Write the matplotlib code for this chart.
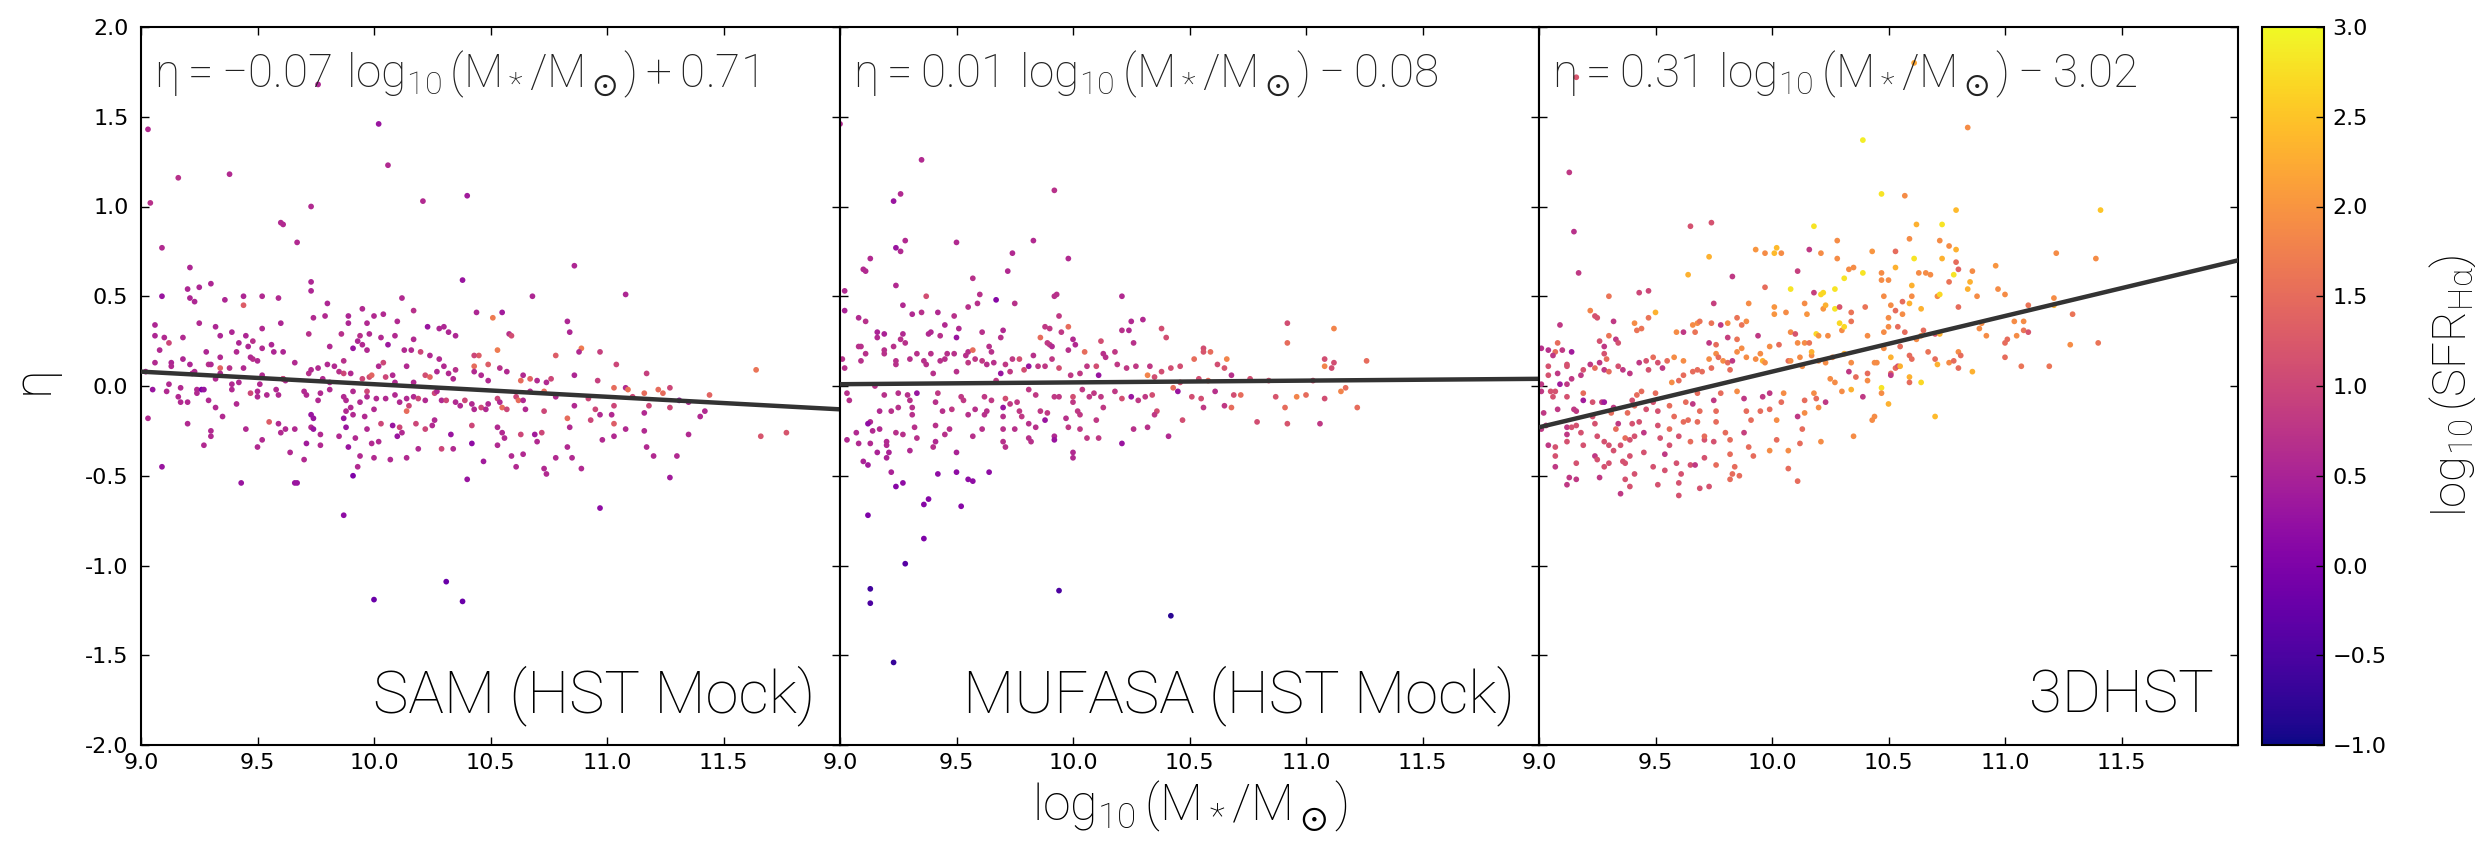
import numpy as np
import matplotlib
matplotlib.use('Agg')
import matplotlib.pyplot as plt
from matplotlib.ticker import FormatStrFormatter

plt.rcParams['mathtext.fontset'] = 'custom'
plt.rcParams['mathtext.rm'] = 'Roboto:light'
plt.rcParams['mathtext.it'] = 'Roboto:light'
plt.rcParams['mathtext.default'] = 'rm'
plt.rcParams['mathtext.fallback'] = 'stixsans'

# (log10 M*, eta, log10 SFR_Halpha)
sam_points = [
    (9.21, 0.66, .55), (10.86, 0.67, .55), (9.73, 0.58, .55), (10.38, 0.59, .3), (9.20, 0.54, .55),
    (9.25, 0.55, .55), (9.30, 0.57, .55), (9.09, 0.50, .3), (9.21, 0.49, .55), (9.23, 0.47, .55),
    (9.36, 0.48, .55), (9.44, 0.50, .55), (9.44, 0.45, 1.3), (9.52, 0.50, .6), (9.59, 0.49, .6),
    (9.73, 0.53, .55), (9.80, 0.46, .55), (10.12, 0.49, .6), (10.68, 0.50, .55), (11.08, 0.51, .55),
    (9.25, 0.35, .6), (9.06, 0.34, .55), (9.32, 0.33, .55), (9.52, 0.32, .6), (9.60, 0.35, .55),
    (9.74, 0.38, .6), (9.79, 0.39, .6), (9.89, 0.39, .55), (9.89, 0.35, .55), (9.95, 0.43, .6),
    (10.00, 0.39, .6), (10.04, 0.40, .6), (10.10, 0.36, .6), (10.17, 0.42, .7), (10.23, 0.33, .3),
    (10.28, 0.32, .55), (10.30, 0.33, .55), (10.44, 0.41, .55), (10.51, 0.38, 1.7), (10.55, 0.41, .4),
    (10.83, 0.36, .55), (10.84, 0.30, .55), (9.97, 0.35, .6), (9.18, 0.27, .6), (9.06, 0.28, .55),
    (9.10, 0.27, .6), (9.12, 0.24, 1.0), (9.08, 0.20, .6), (9.34, 0.28, .55), (9.39, 0.30, .55),
    (9.45, 0.28, .55), (9.42, 0.24, .55), (9.48, 0.25, .7), (9.46, 0.22, .55), (9.28, 0.19, .55),
    (9.34, 0.16, .6), (9.41, 0.19, .6), (9.48, 0.15, .7), (9.52, 0.21, .6), (9.56, 0.23, .55),
    (9.61, 0.19, .55), (9.57, 0.19, .55), (9.72, 0.29, .7), (9.86, 0.29, .7), (9.94, 0.28, .7),
    (9.98, 0.29, .6), (10.03, 0.27, .6), (10.09, 0.28, .6), (9.81, 0.22, .6), (9.91, 0.21, .3),
    (9.93, 0.25, .55), (9.95, 0.23, .6), (9.97, 0.20, .6), (10.06, 0.23, .35), (10.13, 0.20, .6),
    (10.16, 0.20, .6), (10.20, 0.19, 1.0), (10.17, 0.26, .6), (10.24, 0.17, .6), (10.28, 0.15, .6),
    (10.32, 0.30, .55), (10.35, 0.28, .55), (10.53, 0.20, 1.7), (10.58, 0.29, .7), (10.59, 0.28, 1.1),
    (10.45, 0.17, 1.3), (10.43, 0.17, 1.0), (10.78, 0.17, 1.3), (10.89, 0.21, 1.7), (10.88, 0.19, .6),
    (10.97, 0.19, .9), (11.04, 0.12, 1.0), (11.17, 0.07, .9), (11.64, 0.09, 1.6), (9.02, 0.08, .55),
    (9.06, 0.13, .6), (9.13, 0.13, .55), (9.13, 0.11, .6), (9.18, 0.15, .55), (9.21, 0.12, .55),
    (9.23, 0.08, .6), (9.22, 0.07, .6), (9.29, 0.12, .7), (9.30, 0.12, .6), (9.34, 0.10, 1.4),
    (9.38, 0.10, .7), (9.34, 0.07, .6), (9.32, 0.04, .6), (9.39, 0.01, .6), (9.42, 0.02, .6),
    (9.44, 0.10, .6), (9.47, 0.16, .6), (9.50, 0.14, .6), (9.52, 0.06, .6), (9.51, 0.01, .6),
    (9.61, 0.04, .6), (9.62, 0.03, .6), (9.61, 0.04, 1.0), (9.66, 0.13, .6), (9.72, 0.07, .7),
    (9.73, 0.09, .6), (9.76, 0.10, .6), (9.78, 0.04, .6), (9.80, 0.12, .6), (9.81, 0.02, .6),
    (9.83, 0.11, .6), (9.85, 0.08, .7), (9.87, 0.14, .7), (9.87, 0.07, 1.0), (9.90, 0.07, .6),
    (9.95, 0.04, 1.0), (9.98, 0.05, 1.1), (9.99, 0.06, 1.4), (10.02, 0.11, .6), (10.04, 0.13, 1.0),
    (10.05, 0.05, 1.0), (10.08, 0.06, .6), (10.09, 0.02, .6), (10.14, 0.11, .6), (10.17, 0.02, .6),
    (10.22, 0.06, 1.1), (10.24, 0.05, 1.4), (10.27, 0.08, .6), (10.30, 0.11, .6), (10.32, 0.07, .6),
    (10.35, 0.09, .7), (10.34, 0.04, .6), (10.43, 0.11, 1.5), (10.43, 0.08, .6), (10.46, 0.06, .6),
    (10.49, 0.03, .6), (10.54, 0.10, .7), (10.57, 0.08, .6), (10.49, 0.12, 1.3), (10.64, 0.06, .6),
    (10.63, 0.03, 1.5), (10.67, 0.04, 1.4), (10.70, 0.03, .6), (10.76, 0.04, 1.0), (10.74, 0.02, .6),
    (10.86, 0.06, .55), (10.96, 0.03, .9), (9.05, -0.02, .3), (9.12, 0.01, .6), (9.11, -0.03, .6),
    (9.17, -0.01, .6), (9.16, -0.06, .6), (9.17, -0.09, .6), (9.20, -0.09, .6), (9.24, -0.02, .6),
    (9.26, -0.02, 0.0), (9.27, -0.02, .3), (9.29, -0.08, .6), (9.24, -0.04, .6), (9.32, -0.12, .6),
    (9.35, -0.17, .6), (9.39, -0.02, .6), (9.41, -0.10, .6), (9.47, -0.04, 1.0), (9.50, -0.03, .6),
    (9.50, -0.06, .6), (9.54, -0.05, .6), (9.58, -0.02, .6), (9.59, -0.05, .6), (9.55, -0.20, 1.3),
    (9.70, -0.03, .6), (9.71, -0.05, .6), (9.76, -0.08, .6), (9.77, -0.04, .6), (9.81, -0.02, .6),
    (9.87, -0.06, .6), (9.88, -0.08, .6), (9.88, -0.14, .6), (9.90, -0.12, .6), (9.87, -0.18, .3),
    (9.91, -0.03, .6), (9.94, -0.09, .6), (9.97, -0.06, .6), (9.97, -0.03, 1.0), (10.00, -0.13, .6),
    (10.01, -0.07, .6), (10.05, -0.07, .6), (10.09, -0.05, .6), (10.11, -0.09, .6), (10.14, -0.07, .6),
    (10.15, -0.11, 1.0), (10.14, -0.14, 1.5), (10.17, -0.06, .6), (10.19, -0.07, 1.0), (10.22, -0.08, .6),
    (10.26, -0.04, 1.0), (10.27, -0.03, .6), (10.29, -0.08, .6), (10.31, -0.08, 1.0), (10.35, -0.09, .6),
    (10.37, -0.11, .6), (10.39, -0.08, 1.0), (10.42, -0.10, .6), (10.43, -0.13, .6), (10.46, -0.12, 1.0),
    (10.48, -0.13, .6), (10.49, -0.10, .6), (10.53, -0.07, 1.0), (10.54, -0.09, .6), (10.55, -0.12, 1.5),
    (10.57, -0.13, 1.0), (10.61, -0.06, 1.0), (10.62, -0.08, 1.5), (10.64, -0.08, .6), (10.65, -0.13, .6),
    (10.67, -0.03, .6), (10.73, -0.03, 1.5), (10.73, -0.14, 1.0), (10.78, -0.06, .6), (10.86, -0.11, .6),
    (10.92, -0.07, 1.0), (10.95, -0.13, 1.0), (11.03, -0.01, 1.5), (11.03, -0.11, 1.0), (11.08, -0.01, .6),
    (11.09, -0.02, 1.6), (11.11, -0.06, 1.0), (11.16, -0.04, 1.5), (11.18, -0.11, 1.0), (11.22, -0.02, 1.5),
    (11.24, -0.04, 1.5), (11.27, -0.01, 1.0), (11.27, -0.12, 1.0), (11.31, -0.08, .3), (11.35, -0.09, .6),
    (11.42, -0.14, .6), (11.44, -0.05, 1.4), (10.97, -0.16, .6), (11.02, -0.16, .6), (9.03, -0.18, .6),
    (9.20, -0.21, .6), (9.30, -0.25, .6), (9.30, -0.28, .6), (9.27, -0.33, .6), (9.45, -0.24, .6),
    (9.50, -0.34, .6), (9.52, -0.30, .6), (9.59, -0.21, .6), (9.60, -0.26, .6), (9.62, -0.24, .6),
    (9.66, -0.24, .6), (9.64, -0.37, .6), (9.70, -0.41, .6), (9.71, -0.32, .4), (9.73, -0.16, .3),
    (9.74, -0.18, .3), (9.73, -0.23, .6), (9.74, -0.24, .3), (9.77, -0.27, .6), (9.77, -0.33, .6),
    (9.85, -0.28, .6), (9.88, -0.23, .3), (9.89, -0.34, .3), (9.91, -0.16, .6), (9.92, -0.29, .6),
    (9.94, -0.39, .6), (9.93, -0.45, .6), (9.96, -0.17, .6), (9.97, -0.24, .6), (9.99, -0.32, .6),
    (10.00, -0.40, .6), (10.02, -0.31, .6), (10.03, -0.21, 1.0), (10.08, -0.22, .3), (10.10, -0.28, .3),
    (10.11, -0.23, 1.0), (10.12, -0.26, .6), (10.07, -0.41, .6), (10.14, -0.40, .6), (10.19, -0.35, .6),
    (10.18, -0.21, 1.0), (10.22, -0.24, 1.0), (10.25, -0.22, .6), (10.26, -0.19, .6), (10.29, -0.35, 1.0),
    (10.34, -0.35, .6), (10.33, -0.27, .3), (10.42, -0.32, .2), (10.42, -0.22, 1.0), (10.47, -0.42, .4),
    (10.53, -0.33, .6), (10.53, -0.23, .6), (10.55, -0.26, .6), (10.56, -0.29, .6), (10.59, -0.39, .6),
    (10.61, -0.45, .6), (10.63, -0.27, 1.0), (10.64, -0.38, .6), (10.69, -0.27, .4), (10.70, -0.31, .6),
    (10.72, -0.26, 1.0), (10.73, -0.46, .6), (10.74, -0.49, .6), (10.78, -0.40, .6), (10.83, -0.18, 1.5),
    (10.83, -0.34, .6), (10.84, -0.23, .6), (10.85, -0.40, .6), (10.89, -0.46, .6), (10.93, -0.19, 1.0),
    (10.98, -0.30, .6), (11.03, -0.21, 1.3), (11.03, -0.28, .6), (11.08, -0.24, .6), (11.16, -0.15, .6),
    (11.16, -0.25, .6), (11.17, -0.34, .6), (11.20, -0.39, .6), (11.30, -0.39, .6), (11.35, -0.27, .6),
    (11.40, -0.17, .6), (11.66, -0.28, 1.2), (11.77, -0.26, 1.2), (9.09, -0.45, .3), (9.43, -0.54, .3),
    (9.66, -0.54, .3), (9.67, -0.54, .3), (9.91, -0.50, 0.0), (10.40, -0.52, .3), (11.27, -0.51, .4),
    (9.87, -0.72, .2), (10.97, -0.68, .2), (9.76, 1.68, .55), (9.03, 1.43, .6), (10.02, 1.46, .3),
    (10.06, 1.23, .6), (9.16, 1.16, .7), (9.38, 1.18, .6), (9.04, 1.02, .7), (9.73, 1.00, .6),
    (10.21, 1.03, .6), (10.40, 1.06, .4), (9.60, 0.91, .6), (9.61, 0.90, .6), (9.09, 0.77, .6),
    (9.67, 0.80, .6), (10.00, -1.19, -0.2), (10.31, -1.09, -0.2), (10.38, -1.20, -0.2),
]

mufasa_points = [
    (9.11, 0.64, .6), (9.72, 0.64, .6), (9.02, 0.53, .6), (9.24, 0.56, .6), (9.57, 0.60, .7),
    (9.02, 0.42, .5), (9.37, 0.50, 1.1), (9.27, 0.45, .6), (9.67, 0.48, .1), (9.60, 0.51, .7),
    (9.75, 0.46, .7), (9.59, 0.46, .7), (9.55, 0.44, .7), (9.92, 0.50, .7), (9.93, 0.51, .7),
    (10.21, 0.50, .6), (9.08, 0.38, .6), (9.11, 0.36, .7), (9.31, 0.40, .6), (9.35, 0.41, .7),
    (9.42, 0.41, .6), (9.49, 0.39, .7), (9.45, 0.34, .6), (9.16, 0.30, .5), (9.19, 0.29, .5),
    (9.16, 0.27, .6), (9.27, 0.29, .6), (9.26, 0.26, .7), (9.38, 0.29, .6), (9.39, 0.30, .6),
    (9.43, 0.28, .7), (9.50, 0.27, .3), (9.51, 0.32, .6), (9.61, 0.30, .7), (9.70, 0.31, .6),
    (9.69, 0.27, .7), (9.94, 0.39, .8), (9.88, 0.33, .8), (9.90, 0.32, .8), (9.98, 0.33, 1.5),
    (9.95, 0.30, .8), (9.86, 0.27, 1.5), (9.89, 0.24, .8), (9.90, 0.23, .8), (9.91, 0.22, .6),
    (10.00, 0.26, .6), (10.01, 0.23, .6), (9.98, 0.20, .7), (10.21, 0.31, .7), (10.24, 0.31, .6),
    (10.25, 0.36, .6), (10.30, 0.37, .6), (10.26, 0.24, .7), (10.12, 0.25, 1.1), (10.38, 0.32, 1.1),
    (10.40, 0.27, 1.1), (10.92, 0.35, 1.1), (11.12, 0.32, 1.8), (10.92, 0.24, 1.5), (11.26, 0.14, 1.5),
    (11.08, 0.15, 1.1), (11.08, 0.11, 1.8), (11.12, 0.13, 1.1), (11.11, 0.10, 1.1), (10.56, 0.21, 1.1),
    (10.56, 0.19, 1.2), (10.59, 0.19, 1.5), (10.66, 0.15, 1.8), (10.62, 0.12, 1.1), (10.65, 0.10, 1.2),
    (10.52, 0.15, 1.5), (10.46, 0.11, 1.1), (10.42, 0.10, 1.1), (9.09, 0.22, .7), (9.08, 0.22, .7),
    (9.09, 0.14, .7), (9.11, 0.18, .7), (9.01, 0.15, .7), (9.02, 0.10, .7), (9.19, 0.20, .7),
    (9.19, 0.18, .7), (9.24, 0.14, .7), (9.24, 0.12, .7), (9.23, 0.22, .7), (9.28, 0.24, .7),
    (9.33, 0.18, .7), (9.30, 0.15, .7), (9.36, 0.14, .7), (9.39, 0.18, .7), (9.37, 0.12, .7),
    (9.43, 0.14, .7), (9.45, 0.15, .7), (9.40, 0.07, .7), (9.46, 0.18, .7), (9.49, 0.18, .7),
    (9.50, 0.08, .7), (9.54, 0.17, .7), (9.55, 0.19, .7), (9.57, 0.20, 1.5), (9.55, 0.13, .8),
    (9.58, 0.15, .8), (9.61, 0.14, .8), (9.64, 0.22, .7), (9.65, 0.19, .7), (9.63, 0.12, .7),
    (9.66, 0.13, .7), (9.67, 0.03, .8), (9.69, 0.07, .3), (9.71, 0.12, .8), (9.74, 0.15, .8),
    (9.77, 0.15, 1.1), (9.73, 0.08, .8), (9.79, 0.09, 1.1), (9.81, 0.11, .3), (9.83, 0.17, .7),
    (9.85, 0.11, .8), (9.88, 0.11, .8), (9.91, 0.15, .8), (9.94, 0.10, 1.1), (9.99, 0.06, .8),
    (10.03, 0.07, .8), (10.06, 0.11, .8), (10.05, 0.19, 1.5), (10.10, 0.11, 1.1), (10.13, 0.18, .7),
    (10.14, 0.16, .7), (10.18, 0.19, .8), (10.11, 0.06, .3), (10.19, 0.12, .8), (10.23, 0.10, .8),
    (10.27, 0.11, .8), (10.32, 0.06, 1.8), (10.33, 0.11, .8), (10.35, 0.05, 1.1), (10.38, 0.08, 1.1),
    (10.46, 0.02, 1.1), (10.54, 0.04, 1.1), (10.58, 0.03, 1.5), (10.68, 0.06, .7), (10.76, 0.04, 1.1),
    (10.84, 0.03, 1.1), (11.03, 0.03, 1.1), (9.03, -0.04, .7), (9.04, -0.08, .7), (9.15, 0.00, .7),
    (9.19, -0.05, .7), (9.25, -0.04, .7), (9.29, -0.05, .7), (9.33, -0.04, .3), (9.30, -0.08, .7),
    (9.31, -0.12, .7), (9.31, -0.16, .7), (9.22, -0.14, .7), (9.25, -0.12, .7), (9.17, -0.14, .6),
    (9.41, -0.09, .7), (9.42, -0.04, .8), (9.44, -0.14, .7), (9.48, -0.13, .8), (9.52, -0.06, .8),
    (9.53, -0.08, .8), (9.55, -0.16, .7), (9.58, -0.13, .7), (9.62, -0.06, .8), (9.62, -0.16, .7),
    (9.65, -0.08, .8), (9.63, -0.14, .7), (9.70, -0.12, .3), (9.71, -0.07, 1.1), (9.73, -0.10, .8),
    (9.76, -0.09, .8), (9.77, -0.14, .8), (9.78, -0.17, .8), (9.70, -0.17, .7), (9.81, -0.02, .8),
    (9.84, -0.05, .8), (9.86, -0.14, .8), (9.88, -0.19, .3), (9.89, -0.15, .8), (9.92, -0.06, .8),
    (9.94, -0.06, .8), (9.97, -0.18, .7), (10.00, -0.06, 1.1), (10.00, -0.09, .8), (10.02, -0.14, .8),
    (10.03, -0.16, .8), (10.04, -0.02, .8), (10.07, -0.06, .8), (10.09, -0.04, .8), (10.10, -0.19, .8),
    (10.12, -0.06, .8), (10.13, -0.12, .8), (10.18, -0.03, .8), (10.21, -0.07, 1.1), (10.25, -0.06, .3),
    (10.28, -0.08, .8), (10.31, -0.06, .8), (10.34, -0.05, 1.1), (10.36, -0.14, 1.1), (10.35, -0.16, .8),
    (10.43, -0.01, 1.5), (10.45, -0.03, .3), (10.51, -0.06, 1.1), (10.55, -0.07, 1.1), (10.56, -0.12, .8),
    (10.61, -0.03, .7), (10.65, -0.11, .8), (10.68, -0.12, 1.5), (10.69, -0.05, 1.1), (10.72, -0.05, 1.5),
    (10.87, -0.06, 1.2), (10.91, -0.12, 1.5), (10.96, -0.06, 1.8), (11.00, -0.05, 1.5), (11.08, -0.07, 1.1),
    (11.15, -0.03, 1.8), (11.17, -0.01, 1.5), (11.22, -0.12, 1.5), (10.79, -0.20, 1.1), (10.92, -0.21, 1.2),
    (11.06, -0.21, .8), (10.47, -0.19, 1.1), (10.41, -0.28, .6), (10.32, -0.23, .7), (10.26, -0.24, .7),
    (10.21, -0.32, .3), (10.11, -0.29, .8), (10.06, -0.29, .8), (10.03, -0.24, .8), (9.98, -0.23, .8),
    (9.92, -0.28, .6), (9.92, -0.30, .3), (10.00, -0.37, .6), (10.00, -0.40, .6), (9.82, -0.31, .7),
    (9.81, -0.29, .7), (9.84, -0.23, .7), (9.81, -0.21, .7), (9.75, -0.24, .7), (9.71, -0.34, .7),
    (9.70, -0.31, .7), (9.70, -0.24, .7), (9.61, -0.24, .7), (9.57, -0.28, .7), (9.47, -0.24, .7),
    (9.45, -0.27, .7), (9.41, -0.31, .6), (9.40, -0.34, .7), (9.41, -0.22, .7), (9.33, -0.29, .7),
    (9.32, -0.23, .7), (9.30, -0.36, .6), (9.27, -0.27, .7), (9.24, -0.26, .7), (9.20, -0.31, .6),
    (9.20, -0.33, .6), (9.17, -0.24, .6), (9.14, -0.25, .6), (9.13, -0.20, .6), (9.12, -0.21, .2),
    (9.07, -0.26, .6), (9.03, -0.30, .6), (9.08, -0.32, .6), (9.13, -0.32, .6), (9.16, -0.37, .5),
    (9.21, -0.37, .5), (9.20, -0.40, .5), (9.10, -0.42, .5), (9.12, -0.44, .4), (9.50, -0.37, .5),
    (9.50, -0.48, .2), (9.42, -0.49, .2), (9.55, -0.52, .2), (9.57, -0.53, .2), (9.64, -0.48, .2),
    (9.22, -0.48, .5), (9.27, -0.54, .2), (9.24, -0.56, .1), (9.38, -0.63, .1), (9.36, -0.66, .1),
    (9.52, -0.67, .1), (9.12, -0.72, .0), (9.00, 1.46, .6), (9.35, 1.26, .6), (9.26, 1.07, .6),
    (9.23, 1.03, .3), (9.92, 1.09, .7), (9.24, 0.77, .3), (9.26, 0.75, .6), (9.28, 0.81, .6),
    (9.13, 0.71, .6), (9.10, 0.65, .6), (9.50, 0.80, .6), (9.83, 0.81, .6), (9.98, 0.71, .6),
    (9.74, 0.74, .6), (9.36, -0.85, .0), (9.28, -0.99, -0.4), (9.13, -1.13, -0.6), (9.13, -1.21, -0.5),
    (9.94, -1.14, -0.5), (10.42, -1.28, -0.8), (9.23, -1.54, -0.7),
]

hst_points = [
    (10.47, 1.07, 2.8), (9.65, 0.89, 1.15), (9.74, 0.91, 1.15), (9.15, 0.86, .7), (10.18, 0.89, 2.8),
    (9.93, 0.76, 2.0), (10.02, 0.77, 2.4), (10.01, 0.74, 2.4), (9.97, 0.74, 1.9), (10.04, 0.74, 1.9),
    (9.73, 0.72, 2.3), (10.16, 0.76, .8), (10.21, 0.74, 1.9), (10.28, 0.81, 1.9), (10.43, 0.75, 2.0),
    (10.28, 0.71, 1.9), (9.17, 0.63, .8), (9.64, 0.62, 2.3), (9.83, 0.61, .8), (10.33, 0.65, 1.9),
    (10.35, 0.66, 1.9), (10.39, 0.63, 2.8), (10.47, 0.63, 1.9), (10.47, 0.59, 1.9), (10.50, 0.59, 1.9),
    (10.31, 0.60, 2.8), (9.97, 0.55, 1.5), (10.11, 0.64, .9), (10.08, 0.54, 2.8), (10.18, 0.52, .9),
    (10.21, 0.51, 2.7), (10.22, 0.52, 2.7), (10.27, 0.54, 2.8), (10.48, 0.50, 1.9), (9.30, 0.50, 1.6),
    (9.43, 0.52, 1.0), (9.47, 0.53, 1.0), (9.90, 0.46, 1.9), (9.75, 0.46, .9), (10.01, 0.44, 2.0),
    (10.01, 0.40, 2.0), (10.06, 0.41, 1.9), (10.14, 0.46, 1.9), (10.15, 0.40, 2.0), (10.22, 0.43, 2.0),
    (10.23, 0.45, 2.3), (10.27, 0.43, 2.8), (10.29, 0.44, 1.2), (10.34, 0.41, 1.6), (10.40, 0.44, 1.6),
    (10.51, 0.45, 1.9), (9.22, 0.42, 1.8), (9.24, 0.39, 1.15), (9.25, 0.38, 1.15), (9.32, 0.36, .8),
    (9.50, 0.41, 2.3), (9.47, 0.38, 1.6), (9.09, 0.34, .8), (9.41, 0.35, 1.9), (9.42, 0.31, 1.6),
    (9.44, 0.32, 1.6), (9.59, 0.30, 1.9), (9.62, 0.30, .8), (9.66, 0.34, 1.9), (9.68, 0.35, 1.9),
    (9.69, 0.36, 1.6), (9.67, 0.30, 1.6), (9.74, 0.35, 1.6), (9.78, 0.34, .8), (9.81, 0.35, 1.9),
    (9.85, 0.38, 1.6), (9.87, 0.34, 1.6), (9.89, 0.36, 1.9), (9.81, 0.27, .9), (9.85, 0.26, 1.6),
    (9.94, 0.28, .8), (10.08, 0.30, 1.9), (10.10, 0.29, 1.2), (10.11, 0.24, 1.9), (10.14, 0.24, 1.9),
    (10.16, 0.24, 1.6), (10.19, 0.29, 2.7), (10.20, 0.28, 2.0), (10.24, 0.28, 1.9), (10.29, 0.35, 2.7),
    (10.30, 0.31, 1.9), (10.31, 0.33, 2.7), (10.34, 0.36, 1.6), (10.41, 0.28, 1.9), (10.48, 0.30, 1.9),
    (10.50, 0.33, 1.9), (10.50, 0.38, 1.9), (9.30, 0.28, 1.6), (9.26, 0.25, 1.15), (9.28, 0.22, .8),
    (9.28, 0.18, 1.15), (9.33, 0.26, .8), (9.34, 0.24, 1.15), (9.29, 0.15, 1.5), (9.08, 0.24, 1.5),
    (9.07, 0.19, 1.5), (9.10, 0.20, .8), (9.14, 0.19, .4), (9.01, 0.21, .7), (9.04, 0.20, .7),
    (9.06, 0.17, .8), (9.04, 0.11, 1.15), (9.04, 0.06, 1.15), (9.08, 0.07, .8), (9.12, 0.11, 1.15),
    (9.12, 0.12, 1.15), (9.19, 0.09, 1.15), (9.22, 0.12, .8), (9.24, 0.10, 1.5), (9.26, 0.13, .8),
    (9.28, 0.09, .8), (9.30, 0.08, 1.5), (9.34, 0.11, 1.15), (9.36, 0.09, .8), (9.39, 0.07, .8),
    (9.43, 0.13, .8), (9.46, 0.14, 1.15), (9.49, 0.16, 1.5), (9.47, 0.09, 1.15), (9.51, 0.13, 1.15),
    (9.53, 0.10, .8), (9.55, 0.14, 1.5), (9.58, 0.16, 1.9), (9.62, 0.14, 1.9), (9.60, 0.03, 1.5),
    (9.57, 0.02, 1.9), (9.62, 0.06, 1.5), (9.66, 0.08, 1.5), (9.70, 0.08, 1.5), (9.68, 0.09, 1.5),
    (9.74, 0.10, 1.5), (9.73, 0.15, 1.9), (9.76, 0.23, 1.5), (9.76, 0.18, 1.9), (9.73, 0.24, .8),
    (9.77, 0.16, 1.5), (9.79, 0.14, 1.9), (9.81, 0.13, 1.5), (9.83, 0.14, .8), (9.82, 0.09, 1.5),
    (9.85, 0.19, 1.9), (9.87, 0.21, 1.9), (9.89, 0.16, 1.9), (9.93, 0.15, 1.9), (9.95, 0.18, 1.9),
    (9.96, 0.14, 2.3), (9.97, 0.13, 1.9), (9.99, 0.22, 1.9), (10.03, 0.23, 1.5), (10.07, 0.14, 1.5),
    (10.08, 0.14, 1.9), (10.12, 0.16, 1.9), (10.13, 0.11, 1.9), (10.17, 0.17, 1.9), (10.17, 0.19, 2.3),
    (10.20, 0.14, 1.9), (10.23, 0.13, 1.9), (10.26, 0.16, 1.9), (10.31, 0.18, 2.3), (10.33, 0.08, .8),
    (10.34, 0.13, 1.9), (10.36, 0.05, 1.5), (10.41, 0.07, 1.5), (10.44, 0.13, 1.9), (10.45, 0.13, 1.9),
    (10.51, 0.07, 1.5), (9.01, 0.01, .8), (9.01, -0.03, .8), (9.05, -0.03, 1.15), (9.07, -0.03, 1.15),
    (9.06, -0.06, 1.15), (9.09, 0.01, .4), (9.12, 0.01, .8), (9.14, 0.04, .8), (9.18, 0.06, .8),
    (9.19, -0.04, 1.5), (9.19, -0.08, .4), (9.15, -0.13, .8), (9.16, -0.14, .8), (9.12, -0.06, 1.15),
    (9.08, -0.13, .8), (9.02, -0.15, .8), (9.03, -0.22, .8), (9.01, -0.24, .8), (9.04, -0.33, .8),
    (9.07, -0.34, 1.15), (9.07, -0.39, 1.15), (9.07, -0.45, .8), (9.12, -0.23, .8), (9.14, -0.23, 1.15),
    (9.16, -0.22, 1.15), (9.12, -0.31, 1.15), (9.12, -0.27, .8), (9.18, -0.26, 1.15), (9.19, -0.33, 1.15),
    (9.16, -0.43, 1.15), (9.13, -0.51, .8), (9.12, -0.55, .8), (9.16, -0.52, .8), (9.23, -0.09, 1.15),
    (9.27, -0.09, .8), (9.28, -0.09, .4), (9.23, -0.17, 1.15), (9.24, -0.21, 1.15), (9.25, -0.28, 1.15),
    (9.24, -0.39, .8), (9.25, -0.41, 1.15), (9.28, -0.31, 1.15), (9.30, -0.33, 1.15), (9.28, -0.45, 1.15),
    (9.30, -0.43, 1.15), (9.26, -0.51, .8), (9.31, -0.15, 1.5), (9.32, -0.12, .8), (9.34, -0.21, .8),
    (9.33, -0.24, 1.5), (9.35, -0.33, 1.15), (9.32, -0.36, 1.15), (9.35, -0.60, .8), (9.37, -0.52, 1.15),
    (9.39, -0.56, 1.15), (9.36, -0.42, 1.15), (9.37, -0.43, 1.15), (9.39, -0.39, 1.15), (9.41, -0.49, 1.15),
    (9.37, -0.29, 1.5), (9.39, -0.30, 1.15), (9.41, -0.28, 1.15), (9.40, -0.21, 1.15), (9.43, -0.20, 1.15),
    (9.38, -0.15, 1.5), (9.41, -0.11, 1.5), (9.40, -0.08, 1.15), (9.42, -0.05, 1.5), (9.44, -0.03, 1.5),
    (9.45, -0.26, .8), (9.45, -0.37, 1.15), (9.46, -0.13, 1.15), (9.49, -0.09, 1.15), (9.50, -0.04, 1.5),
    (9.51, -0.14, 1.15), (9.51, -0.22, 1.15), (9.52, -0.29, 1.15), (9.51, -0.55, 1.15), (9.54, -0.47, 1.15),
    (9.49, -0.45, 1.15), (9.54, -0.38, .8), (9.56, -0.33, 1.15), (9.56, -0.24, 1.5), (9.56, -0.11, 1.5),
    (9.58, -0.17, 1.5), (9.60, -0.61, 1.15), (9.60, -0.54, 1.15), (9.59, -0.43, 1.15), (9.61, -0.49, 1.15),
    (9.60, -0.28, 1.15), (9.62, -0.20, 1.5), (9.64, -0.19, 1.5), (9.63, -0.09, 1.5), (9.65, -0.31, 1.5),
    (9.66, -0.10, .8), (9.68, -0.04, 1.5), (9.69, -0.14, 1.5), (9.68, -0.20, 1.5), (9.65, -0.44, 1.15),
    (9.67, -0.44, .8), (9.69, -0.57, 1.15), (9.71, -0.40, 1.15), (9.71, -0.30, 1.15), (9.71, -0.28, 1.5),
    (9.73, -0.56, 1.15), (9.76, -0.44, 1.5), (9.75, -0.31, 1.15), (9.76, -0.20, 1.5), (9.76, -0.14, 1.5),
    (9.75, -0.08, .8), (9.78, -0.04, 1.5), (9.80, -0.26, 1.5), (9.82, -0.30, 1.5), (9.82, -0.52, 1.5),
    (9.83, -0.49, 1.5), (9.82, -0.38, 1.5), (9.84, -0.45, 1.5), (9.86, -0.50, 1.5), (9.85, -0.03, 1.9),
    (9.88, -0.07, .8), (9.89, -0.14, 1.5), (9.91, -0.19, 1.5), (9.88, -0.26, .9), (9.90, -0.34, 1.5),
    (9.92, -0.39, 1.5), (9.95, -0.14, 1.5), (9.96, -0.06, .8), (9.99, -0.04, .8), (9.99, -0.13, 1.5),
    (10.02, -0.19, 1.9), (10.02, -0.30, 1.5), (9.99, -0.36, 1.9), (10.04, -0.09, 1.5), (10.05, -0.04, 1.9),
    (10.07, -0.46, 1.5), (10.07, -0.36, 1.9), (10.11, -0.17, .8), (10.12, -0.32, 1.5), (10.11, -0.53, 1.5),
    (10.13, -0.24, 1.5), (10.14, -0.15, 1.9), (10.14, -0.08, 1.5), (10.18, -0.04, 1.9), (10.19, -0.07, 1.5),
    (10.20, -0.12, 1.9), (10.21, -0.31, 1.9), (10.23, -0.09, .8), (10.25, 0.04, 1.9), (10.27, 0.02, 1.9),
    (10.30, -0.03, 1.9), (10.34, -0.02, 2.3), (10.35, -0.28, 1.9), (10.39, -0.06, .8), (10.43, -0.19, 1.9),
    (10.44, -0.17, 1.9), (10.47, -0.01, 2.8), (10.47, -0.04, 1.9), (10.50, -0.10, 2.3), (10.41, 0.03, 1.9),
    (10.48, 0.21, 1.9), (10.51, 0.06, .8), (10.57, 1.06, 1.9), (10.79, 0.98, 2.4), (11.41, 0.98, 2.5),
    (10.62, 0.90, 2.3), (10.73, 0.90, 2.8), (10.59, 0.82, 1.9), (10.72, 0.81, 1.9), (10.76, 0.78, 1.9),
    (10.79, 0.76, 2.3), (10.53, 0.75, 1.5), (11.22, 0.74, 1.9), (10.61, 0.71, 2.8), (10.73, 0.71, 2.3),
    (11.39, 0.71, 1.9), (10.79, 0.69, 1.5), (10.53, 0.66, 2.3), (10.80, 0.65, 1.4), (10.86, 0.64, 1.9),
    (10.96, 0.67, 2.0), (10.63, 0.63, 1.9), (10.66, 0.63, 1.9), (10.68, 0.62, 1.9), (10.78, 0.62, 2.8),
    (10.76, 0.58, 1.6), (10.85, 0.58, 2.3), (10.60, 0.56, 2.3), (10.84, 0.54, 2.3), (10.97, 0.54, 1.9),
    (11.00, 0.51, 1.9), (10.60, 0.50, 1.9), (10.71, 0.50, 1.9), (10.72, 0.51, 2.7), (10.88, 0.50, 1.9),
    (10.59, 0.46, 2.3), (10.56, 0.47, 1.5), (10.80, 0.44, 1.5), (10.64, 0.43, 2.3), (10.53, 0.42, 1.5),
    (11.10, 0.45, 1.6), (11.21, 0.49, 1.9), (11.21, 0.45, 2.3), (11.29, 0.40, 1.6), (10.56, 0.40, 1.9),
    (11.04, 0.36, 1.9), (11.08, 0.36, 1.9), (10.90, 0.35, 1.9), (10.89, 0.32, 1.9), (10.54, 0.33, 1.5),
    (11.08, 0.31, 1.6), (11.10, 0.30, 1.2), (10.57, 0.30, 1.5), (10.65, 0.31, 1.5), (10.70, 0.29, 1.2),
    (10.72, 0.29, 2.3), (10.64, 0.28, 1.9), (10.62, 0.26, 1.9), (10.92, 0.28, 1.9), (11.05, 0.28, 1.9),
    (11.01, 0.26, 1.5), (11.00, 0.24, 1.5), (11.28, 0.23, 1.9), (11.40, 0.24, 1.6), (10.55, 0.22, 1.5),
    (10.67, 0.19, 1.6), (10.80, 0.19, 1.9), (10.81, 0.17, 1.5), (10.59, 0.17, 1.5), (10.51, 0.16, 2.3),
    (10.60, 0.15, 1.5), (10.70, 0.15, 1.5), (10.71, 0.12, 2.3), (10.76, 0.13, 1.9), (10.78, 0.14, 1.5),
    (10.80, 0.10, 1.5), (10.86, 0.08, 2.3), (11.00, 0.16, 1.5), (11.07, 0.11, 1.6), (11.19, 0.11, 1.6),
    (10.53, 0.10, 1.5), (10.54, 0.11, 1.2), (10.55, 0.11, 2.3), (10.59, 0.05, 2.3), (10.59, 0.02, 1.5),
    (10.64, 0.02, 2.7), (10.70, -0.17, 2.4), (9.16, 1.72, 1.2), (9.13, 1.19, .8), (10.84, 1.44, 1.9),
    (10.39, 1.37, 2.9), (10.61, 1.80, 2.2),
]

fit_slope = [-0.07, 0.01, 0.31]
fit_intercept = [0.71, -0.08, -3.02]
panel_names = ['SAM (HST Mock)', 'MUFASA (HST Mock)', '3DHST']
xticks = [9.0, 9.5, 10.0, 10.5, 11.0, 11.5]
yticks = [-2.0, -1.5, -1.0, -0.5, 0.0, 0.5, 1.0, 1.5, 2.0]
cbar_ticks = [-1.0, -0.5, 0.0, 0.5, 1.0, 1.5, 2.0, 2.5, 3.0]

fig = plt.figure(figsize=(24.75, 8.6), dpi=100)
W, H = 2475.0, 860.0
left0, pw = 141 / W, 699 / W
bot, ht = 1 - 745 / H, (745 - 27) / H

axes = []
for i, pts in enumerate([sam_points, mufasa_points, hst_points]):
    ax = fig.add_axes([left0 + i * pw, bot, pw, ht])
    axes.append(ax)
    pts = np.array(pts)
    sc = ax.scatter(pts[:, 0], pts[:, 1], c=pts[:, 2], cmap='plasma', vmin=-1, vmax=3,
                    s=17, linewidths=0, zorder=2)
    xl = np.array([9.0, 12.0])
    ax.plot(xl, fit_slope[i] * xl + fit_intercept[i], color='#333333', lw=3.2, zorder=3)
    ax.set_xlim(9, 12)
    ax.set_ylim(-2, 2)
    ax.set_xticks(xticks)
    ax.set_yticks(yticks)
    ax.xaxis.set_major_formatter(FormatStrFormatter('%.1f'))
    ax.yaxis.set_major_formatter(FormatStrFormatter('%.1f'))
    ax.tick_params(direction='in', top=True, right=True, length=6, width=1,
                   labelsize=16, pad=6)
    ax.tick_params(axis='y', pad=9)
    if i > 0:
        ax.tick_params(labelleft=False)
    for sp in ax.spines.values():
        sp.set_linewidth(1.5)

    s, b = fit_slope[i], fit_intercept[i]
    sign = '+' if b >= 0 else '-'
    eq = r'$\eta = %.2f\ \log_{10}(M_*/M_\odot) %s %.2f$' % (s, sign, abs(b))
    ax.text(0.018, 0.97, eq, transform=ax.transAxes, ha='left', va='top',
            fontsize=33, color='#222222')
    ax.text(0.965, 0.045, panel_names[i], transform=ax.transAxes, ha='right',
            va='baseline', fontsize=43, family='Roboto', fontweight='light', color='black')

axes[0].set_ylabel(r'$\eta$', fontsize=38, labelpad=14, color='black')
axes[1].set_xlabel(r'$\log_{10}(M_*/M_\odot)$', fontsize=36, labelpad=4, color='black')

cax = fig.add_axes([2262 / W, bot, 62 / W, ht])
cb = fig.colorbar(sc, cax=cax, ticks=cbar_ticks)
cb.ax.tick_params(labelsize=16, direction='in', length=6, width=1, pad=6)
cb.outline.set_linewidth(1.5)
cb.set_label(r'$\log_{10}(SFR_{H\alpha})$', fontsize=34, labelpad=30, color='black')

fig.savefig('out.png', dpi=100)
